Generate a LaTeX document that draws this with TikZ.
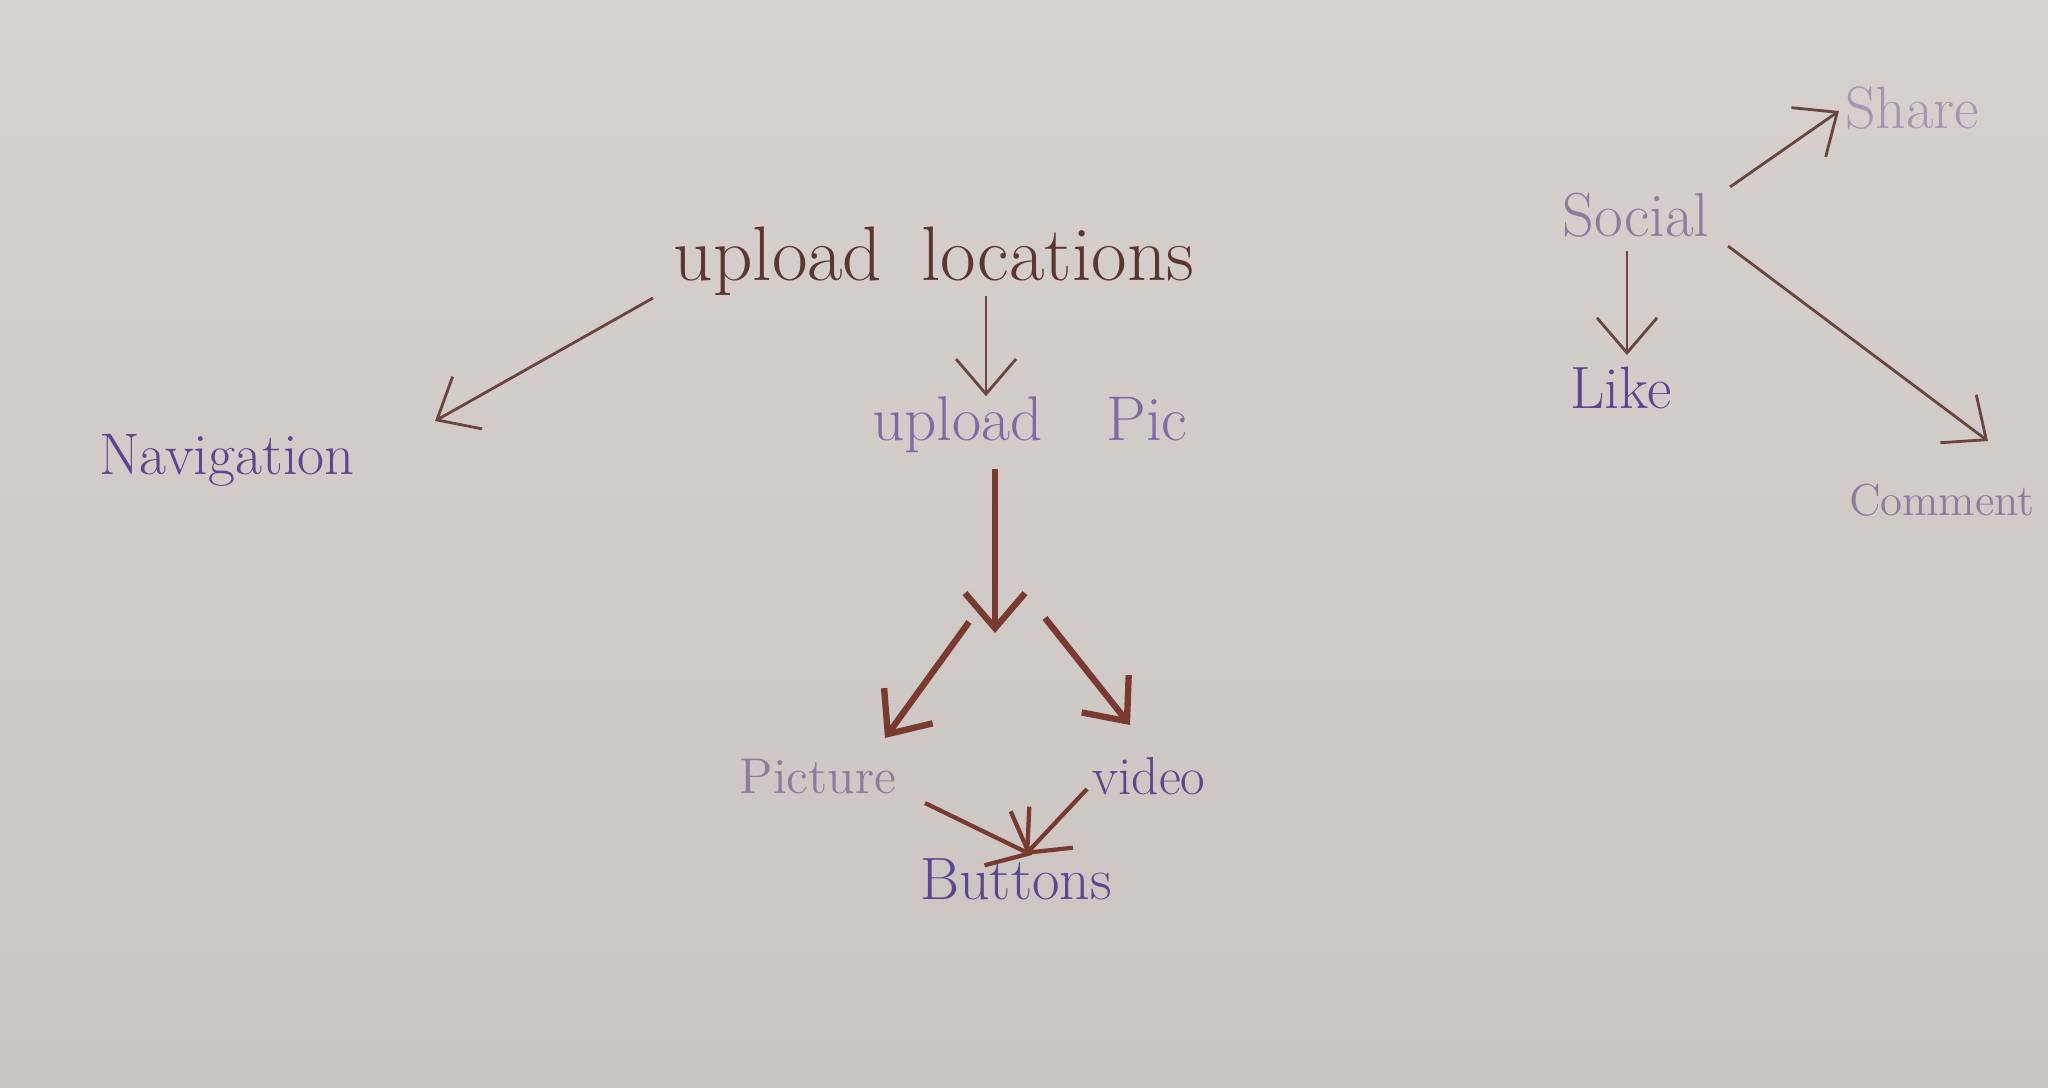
\documentclass[tikz,border=0pt]{standalone}
\usepackage{tikz}
\usepackage{xcolor}
\usetikzlibrary{arrows.meta, positioning, calc}

\definecolor{paper}{HTML}{D6D1CD}
\definecolor{paperlow}{HTML}{CBC5C1}
\definecolor{inkbrown}{HTML}{5C3631}
\definecolor{inkpurple}{HTML}{5E4590}
\definecolor{inklight}{HTML}{8C7C9E}
\definecolor{penbrown}{HTML}{6A4640}
\definecolor{penred}{HTML}{7A3A30}

\begin{document}
\begin{tikzpicture}[
			node distance=1cm and 1cm,
			on grid,
			>={Straight Barb[length=3.5mm, width=6mm]},
			title/.style={
				text=inkbrown,
				font=\fontsize{22}{26}\selectfont,
				inner sep=0pt
			},
			item/.style={
				text=inkpurple,
				font=\fontsize{17}{20}\selectfont,
				inner sep=0pt
			},
			faded/.style={
				item,
				text=inklight
			},
			arrow/.style={
				draw=penbrown,
				line width=0.8pt,
				->
			},
			heavy/.style={
				draw=penred,
				line width=1.8pt,
				->
			}
		]

		% paper
		\shade[top color=paper, bottom color=paperlow] (0,0) rectangle (20.48,-10.87);
		\useasboundingbox (0,0) rectangle (20.48,-10.87);

		\node (locations) [title] at (9.34,-2.61) {upload\enspace locations};
		\node (uploadpic) [item, text=inkpurple!80!white, font=\fontsize{18}{21}\selectfont, below right=1.64cm and 0.96cm of locations] {upload\quad Pic};
		\node (picture) [faded, font=\fontsize{14.3}{17}\selectfont, below left=3.52cm and 2.12cm of uploadpic] {Picture};
		\node (video) [item, font=\fontsize{15.2}{18}\selectfont, below right=3.51cm and 1.19cm of uploadpic] {video};
		\node (buttons) [item, below right=1.02cm and 1.98cm of picture] {Buttons};
		\node (navigation) [item, font=\fontsize{16.7}{20}\selectfont, below left=1.99cm and 7.07cm of locations] {Navigation};

		\node (social) [faded, font=\fontsize{17.7}{21}\selectfont, above right=0.46cm and 7.02cm of locations] {Social};
		\node (share) [faded, text=inklight!80!white, above right=1.07cm and 2.76cm of social] {Share};
		\node (like) [item, below left=1.73cm and 0.15cm of social] {Like};
		\node (comment) [faded, font=\fontsize{12.7}{15}\selectfont, below right=2.85cm and 3.06cm of social] {Comment};

		\coordinate (fork) at (9.95,-6.33);

		\draw [arrow] ([shift={(-2.81,-0.37)}]locations.center) -- ([shift={(2.08,0.39)}]navigation.center);
		\draw [arrow] ([xshift=5.2mm]locations.south) -- ([xshift=5.2mm]locations.south |- uploadpic.north);
		\draw [heavy, shorten <=1.5mm] (uploadpic.south -| fork) -- (fork);
		\draw [heavy] ([shift={(-0.26,0.11)}]fork) -- ([shift={(0.67,0.39)}]picture.center);
		\draw [heavy] ([shift={(0.50,0.15)}]fork) -- ([shift={(-0.19,0.51)}]video.center);
		\draw [heavy, line width=1.2pt] ([shift={(1.07,-0.26)}]picture.center) -- ([shift={(0.16,0.24)}]buttons.center);
		\draw [heavy, line width=1.2pt] ([shift={(-0.62,-0.13)}]video.center) -- ([shift={(0.09,0.24)}]buttons.center);

		\draw [arrow] ([shift={(0.94,0.28)}]social.center) -- ([shift={(-0.73,-0.03)}]share.center);
		\draw [arrow] ([shift={(-0.09,-0.36)}]social.center) -- ([shift={(0.06,0.33)}]like.center);
		\draw [arrow] ([shift={(0.92,-0.31)}]social.center) -- ([shift={(0.46,0.59)}]comment.center);

		\end{tikzpicture}
\end{document}
